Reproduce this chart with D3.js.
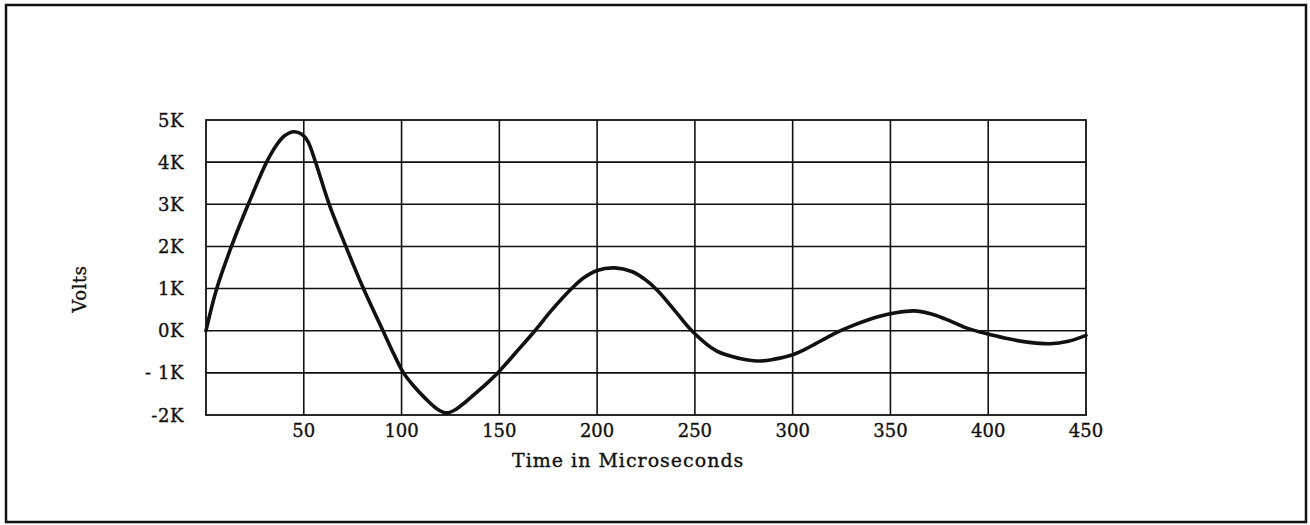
<!DOCTYPE html>
<html>
<head>
<meta charset="utf-8">
<script src="https://cdn.jsdelivr.net/npm/d3@7"></script>
<style>
  html, body { margin: 0; padding: 0; background: #fff; }
  svg { display: block; }
  text { font-family: "DejaVu Serif", "Liberation Serif", serif; fill: #111; stroke: #111; stroke-width: 0.35px; }
</style>
</head>
<body>
<svg id="chart" width="1310" height="525"></svg>
<script>
// ---- data ----
const timeUs = [0, 5.5, 13, 21.6, 31, 36, 40, 45, 49, 52, 56, 63, 71.5, 80.5, 90.5, 96, 101, 106, 112, 118, 123, 128, 133, 140, 145, 150, 158.8, 168.2, 177, 187, 193, 200, 209, 218, 225, 231, 239, 248.4, 261, 273, 282, 290, 300, 306, 312, 318, 324, 330, 338, 345, 352, 362, 370, 378, 388, 397.5, 409, 420, 431.6, 441, 450];
const voltsK = [0, 1.0, 2.0, 3.0, 4.0, 4.4, 4.62, 4.72, 4.66, 4.5, 4.0, 3.0, 2.0, 1.0, 0, -0.55, -1.0, -1.3, -1.6, -1.85, -1.95, -1.86, -1.68, -1.4, -1.19, -0.96, -0.5, 0, 0.5, 1.0, 1.25, 1.43, 1.49, 1.4, 1.2, 0.95, 0.52, 0, -0.48, -0.66, -0.72, -0.68, -0.57, -0.45, -0.3, -0.15, -0.01, 0.11, 0.25, 0.35, 0.42, 0.47, 0.41, 0.28, 0.08, -0.05, -0.18, -0.27, -0.31, -0.25, -0.11];
const xTicks = [50, 100, 150, 200, 250, 300, 350, 400, 450];
const yTicks = [5, 4, 3, 2, 1, 0, -1, -2];
const yTickLabels = ["5K", "4K", "3K", "2K", "1K", "0K", "- 1K", "-2K"];
const xTitle = "Time in Microseconds";
const yTitle = "Volts";

// ---- layout ----
const svg = d3.select("#chart");
const pLeft = 206, pRight = 1086, pTop = 120, pBottom = 415;
const x = d3.scaleLinear().domain([0, 450]).range([pLeft, pRight]);
const y = d3.scaleLinear().domain([-2, 5]).range([pBottom, pTop]);

// outer border
svg.append("rect")
  .attr("x", 6).attr("y", 5).attr("width", 1300).attr("height", 517)
  .attr("fill", "none").attr("stroke", "#111").attr("stroke-width", 2.5);

// grid
const g = svg.append("g");
g.selectAll("line.vx").data(xTicks.filter(d => d < 450)).enter().append("line")
  .attr("x1", d => x(d)).attr("x2", d => x(d))
  .attr("y1", pTop).attr("y2", pBottom)
  .attr("stroke", "#111").attr("stroke-width", 1.6);
g.selectAll("line.hy").data(yTicks.filter(d => d > -2 && d < 5)).enter().append("line")
  .attr("x1", pLeft).attr("x2", pRight)
  .attr("y1", d => y(d)).attr("y2", d => y(d))
  .attr("stroke", "#111").attr("stroke-width", 1.6);
g.append("rect")
  .attr("x", pLeft).attr("y", pTop).attr("width", pRight - pLeft).attr("height", pBottom - pTop)
  .attr("fill", "none").attr("stroke", "#111").attr("stroke-width", 1.8);

// x tick labels
svg.selectAll("text.xt").data(xTicks).enter().append("text")
  .attr("x", d => x(d)).attr("y", 437)
  .attr("text-anchor", "middle").attr("font-size", 18)
  .text(d => d);

// y tick labels
svg.selectAll("text.yt").data(yTicks).enter().append("text")
  .attr("x", 184).attr("y", d => y(d) + 6.5)
  .attr("text-anchor", "end").attr("font-size", 18)
  .attr("letter-spacing", 0.6)
  .text((d, i) => yTickLabels[i]);

// axis titles
svg.append("text")
  .attr("x", 512).attr("y", 467)
  .attr("font-size", 19).attr("letter-spacing", 1.0)
  .text(xTitle);
svg.append("text")
  .attr("transform", "translate(86,289) rotate(-90)")
  .attr("text-anchor", "middle").attr("font-size", 18).attr("letter-spacing", 0.6)
  .text(yTitle);

// curve
const pts = timeUs.map((t, i) => [t, voltsK[i]]);
const line = d3.line().x(d => x(d[0])).y(d => y(d[1])).curve(d3.curveCatmullRom.alpha(0.5));
svg.append("path").datum(pts)
  .attr("d", line)
  .attr("fill", "none").attr("stroke", "#111").attr("stroke-width", 3.6)
  .attr("stroke-linejoin", "round").attr("stroke-linecap", "round");
</script>
</body>
</html>
